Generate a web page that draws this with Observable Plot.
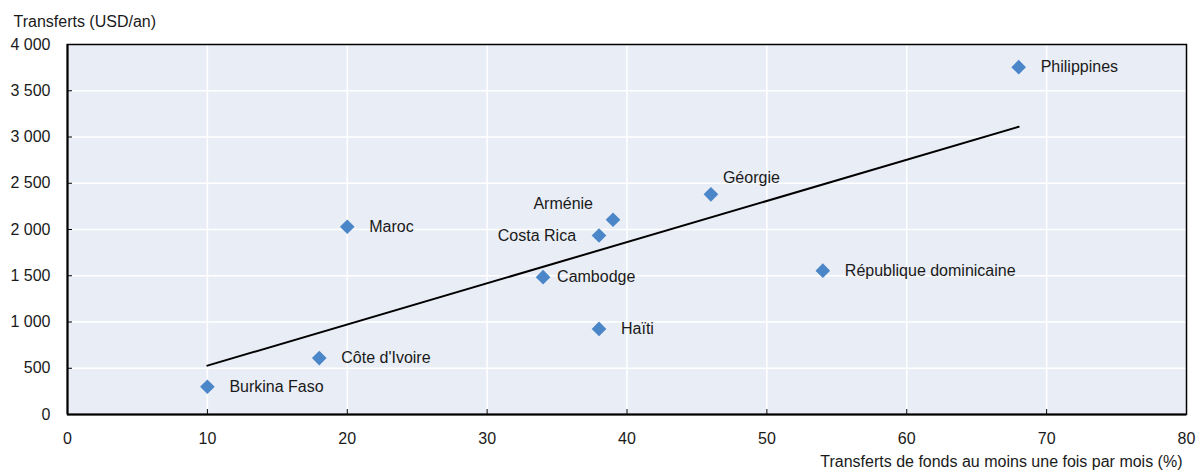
<!DOCTYPE html>
<html>
<head>
<meta charset="utf-8">
<script src="https://cdn.jsdelivr.net/npm/d3@7"></script>
<script src="https://cdn.jsdelivr.net/npm/@observablehq/plot@0.6"></script>
<style>
  html, body { margin: 0; padding: 0; background: #fff; }
  #chart svg { display: block; }
</style>
</head>
<body>
<div id="chart"></div>
<script>
// ---- Data ----
const countries = ["Burkina Faso", "Côte d'Ivoire", "Maroc", "Cambodge", "Costa Rica", "Arménie", "Haïti", "Géorgie", "République dominicaine", "Philippines"];
const monthlyShare = [10, 18, 20, 34, 38, 39, 38, 46, 54, 68];           // % sending at least once a month
const remittances = [300, 610, 2030, 1485, 1935, 2105, 925, 2380, 1555, 3755]; // USD per year
const xTicks = [0, 10, 20, 30, 40, 50, 60, 70, 80];
const yTicks = [0, 500, 1000, 1500, 2000, 2500, 3000, 3500, 4000];
const yTitle = "Transferts (USD/an)";
const xTitle = "Transferts de fonds au moins une fois par mois (%)";

// label placement groups (kept apart from data)
const labelsLeft = ["Costa Rica"];
const labelsAboveLeft = ["Arménie"];
const labelsAboveRight = ["Géorgie"];
const labelsNearRight = ["Cambodge"];

const data = countries.map((c, i) => ({country: c, x: monthlyShare[i], y: remittances[i]}));

// ---- Font choice ----
function hasFont(name) {
  const ctx = document.createElement("canvas").getContext("2d");
  const s = "Transferts 4 000 Philippines";
  ctx.font = "40px monospace";
  const a = ctx.measureText(s).width;
  ctx.font = `40px "${name}", monospace`;
  return Math.abs(ctx.measureText(s).width - a) > 0.5;
}
const narrow = hasFont("Liberation Sans Narrow");
const fontFamily = narrow ? '"Liberation Sans Narrow", "Arial Narrow", sans-serif' : '"Liberation Sans", Arial, sans-serif';
const fontSize = narrow ? 19.5 : 16;

const ink = "#1a1a1a";
const fmt = d => d3.format(",")(d).replace(/,/g, " ");

const inGroup = g => d => g.includes(d.country);
const others = d => ![...labelsLeft, ...labelsAboveLeft, ...labelsAboveRight, ...labelsNearRight].includes(d.country);

const chart = Plot.plot({
  width: 1197,
  height: 474,
  marginLeft: 67,
  marginRight: 11,
  marginTop: 44,
  marginBottom: 60,
  style: {fontFamily, fontSize: fontSize + "px", color: ink, background: "white", overflow: "visible"},
  x: {domain: [0, 80]},
  y: {domain: [0, 4000]},
  marks: [
    Plot.frame({fill: "#e9edf5"}),
    Plot.gridX(xTicks, {stroke: "white", strokeOpacity: 1, strokeWidth: 1.5}),
    Plot.gridY(yTicks, {stroke: "white", strokeOpacity: 1, strokeWidth: 1.5}),
    Plot.frame({stroke: "#000", strokeWidth: 1.5}),
    Plot.ruleX([0], {stroke: "#000", strokeWidth: 2}),
    Plot.ruleY([0], {stroke: "#000", strokeWidth: 2}),
    Plot.axisX(xTicks, {tickSize: -5, tickPadding: 23, tickFormat: d => String(d), label: null, stroke: "#000", fill: ink}),
    Plot.axisY(yTicks, {tickSize: -5, tickPadding: 22, tickFormat: fmt, label: null, stroke: "#000", fill: ink}),
    Plot.linearRegressionY(data, {x: "x", y: "y", ci: 0, stroke: "#000", strokeWidth: 2}),
    Plot.dot(data, {x: "x", y: "y", symbol: "diamond2", r: 6.6, fill: "#4a86c8", stroke: null}),
    Plot.text(data.filter(others), {x: "x", y: "y", text: "country", textAnchor: "start", dx: 22, lineAnchor: "middle", fill: ink}),
    Plot.text(data.filter(inGroup(labelsNearRight)), {x: "x", y: "y", text: "country", textAnchor: "start", dx: 14, lineAnchor: "middle", fill: ink}),
    Plot.text(data.filter(inGroup(labelsAboveRight)), {x: "x", y: "y", text: "country", textAnchor: "start", dx: 12, dy: -16, lineAnchor: "middle", fill: ink}),
    Plot.text(data.filter(inGroup(labelsAboveLeft)), {x: "x", y: "y", text: "country", textAnchor: "end", dx: -20, dy: -16, lineAnchor: "middle", fill: ink}),
    Plot.text(data.filter(inGroup(labelsLeft)), {x: "x", y: "y", text: "country", textAnchor: "end", dx: -23, lineAnchor: "middle", fill: ink}),
    Plot.text([yTitle], {frameAnchor: "top-left", textAnchor: "start", lineAnchor: "middle", dx: -54, dy: -23, fill: ink}),
    Plot.text([xTitle], {frameAnchor: "bottom-right", textAnchor: "end", lineAnchor: "middle", dx: -4, dy: 47, fill: ink})
  ]
});
document.getElementById("chart").appendChild(chart);
</script>
</body>
</html>
